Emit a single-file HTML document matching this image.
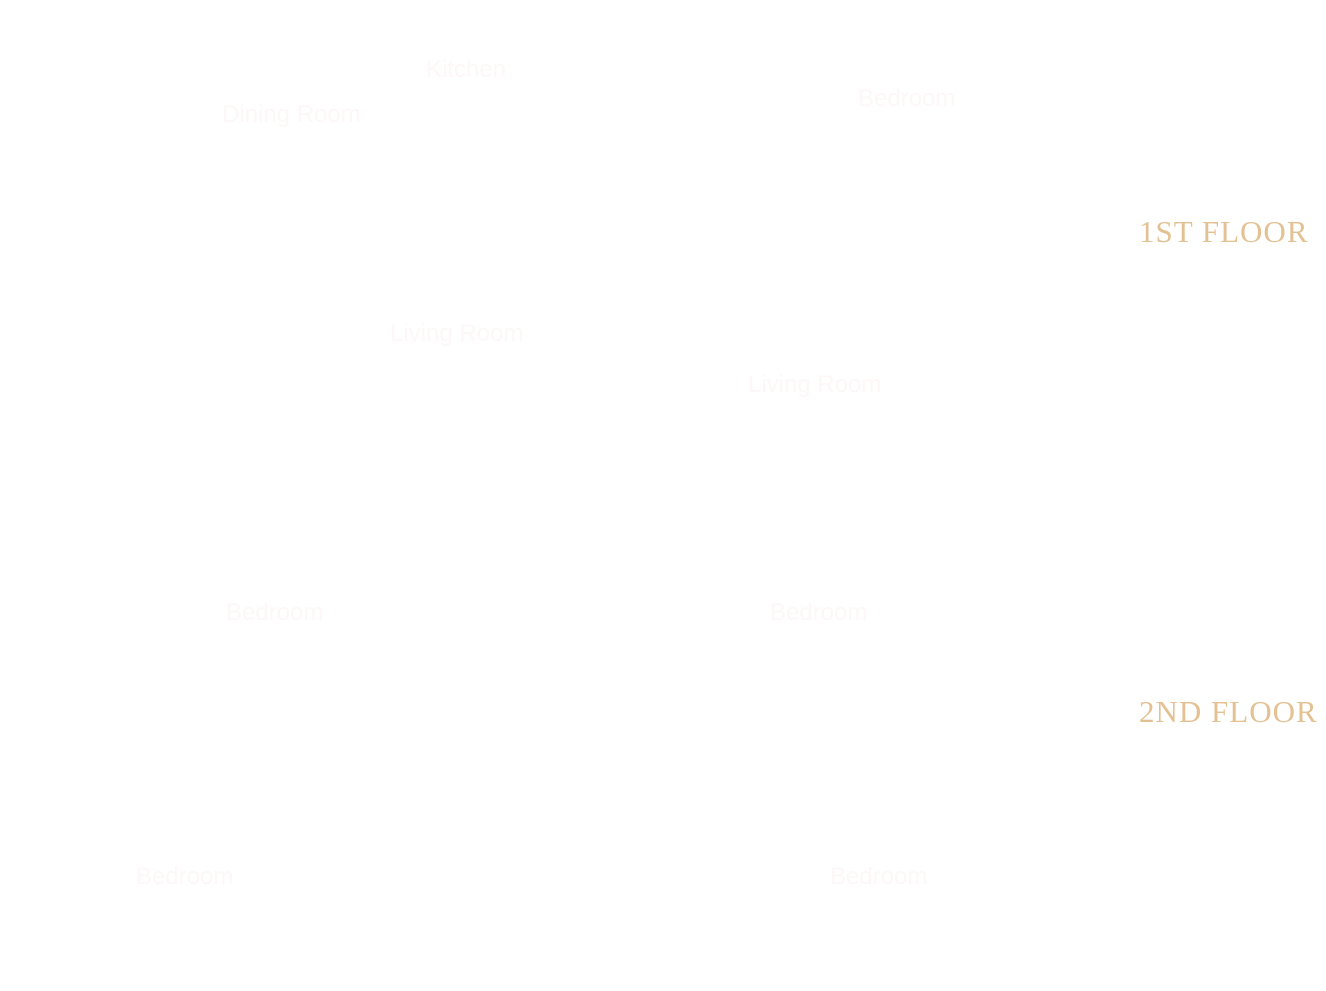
<!DOCTYPE html>
<html><head><meta charset="utf-8"><style>
html,body{margin:0;padding:0;background:#fff;width:1326px;height:991px;overflow:hidden;position:relative}
.r{position:absolute;font-family:"Liberation Sans",sans-serif;font-size:24px;color:#fdf7f7;white-space:nowrap;line-height:1}
.f{position:absolute;font-family:"Liberation Serif",serif;font-size:31px;color:#e4c193;white-space:nowrap;line-height:1;letter-spacing:1px}
</style></head><body>
<div class="r" style="left:426px;top:58px">Kitchen</div>
<div class="r" style="left:222px;top:103px">Dining Room</div>
<div class="r" style="left:858px;top:87px">Bedroom</div>
<div class="f" style="left:1139px;top:216px">1ST FLOOR</div>
<div class="r" style="left:390px;top:322px">Living Room</div>
<div class="r" style="left:748px;top:373px">Living Room</div>
<div class="r" style="left:226px;top:601px">Bedroom</div>
<div class="r" style="left:770px;top:601px">Bedroom</div>
<div class="f" style="left:1139px;top:696px">2ND FLOOR</div>
<div class="r" style="left:136px;top:865px">Bedroom</div>
<div class="r" style="left:830px;top:865px">Bedroom</div>
</body></html>
